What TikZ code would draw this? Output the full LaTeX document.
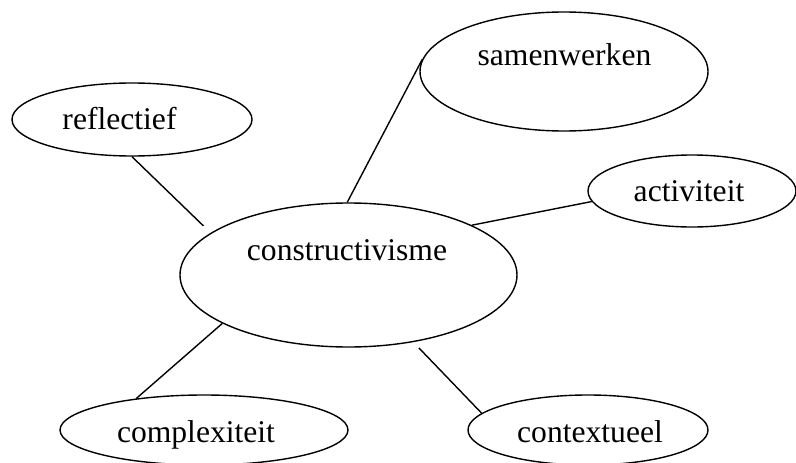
\documentclass[tikz,border=0pt]{standalone}
\usepackage{fontspec}
\setmainfont{Liberation Serif}
\usetikzlibrary{shapes.geometric}
\tikzset{
    bubble/.style={draw, ellipse, line width=1.4pt, inner sep=0pt},
    word/.style={text height=14pt, text depth=14pt, inner sep=0pt,
        font=\fontsize{31.6}{38}\selectfont},
    link/.style={line width=1.4pt},
}

\begin{document}
\begin{tikzpicture}[x=1pt, y=-1pt]
    \useasboundingbox (0,0) rectangle (796,463);
    % centre
    \node[bubble, minimum width=337pt, minimum height=144pt,
        label={[word, xshift=-1.5pt, yshift=15pt]center:constructivisme}] (C) at (348.5,275) {};
    % surrounding ideas
    \node[bubble, minimum width=240pt, minimum height=73pt,
        label={[word, xshift=-12.5pt, yshift=-9.5pt]center:reflectief}] (R) at (132,119.5) {};
    \node[bubble, minimum width=288pt, minimum height=119pt,
        label={[word, xshift=0.5pt, yshift=6.5pt]center:samenwerken}] (S) at (564,71.5) {};
    \node[bubble, minimum width=208pt, minimum height=72pt,
        label={[word, xshift=-3pt, yshift=-10pt]center:activiteit}] (A) at (692,191) {};
    \node[bubble, minimum width=288pt, minimum height=70pt,
        label={[word, xshift=-8pt, yshift=-12pt]center:complexiteit}] (X) at (204,430) {};
    \node[bubble, minimum width=240pt, minimum height=70pt,
        label={[word, xshift=2pt, yshift=-12pt]center:contextueel}] (T) at (588,430) {};
    \draw[link, shorten >=10pt] (R.-90) to (C.163.5);
    \draw[link] (S.175) to (C.91);
    \draw[link] (A.186) to (C.22);
    \draw[link] (X.155) to (C.201);
    \draw[link, shorten >=8pt] (T.171) to (C.-46);
\end{tikzpicture}
\end{document}
